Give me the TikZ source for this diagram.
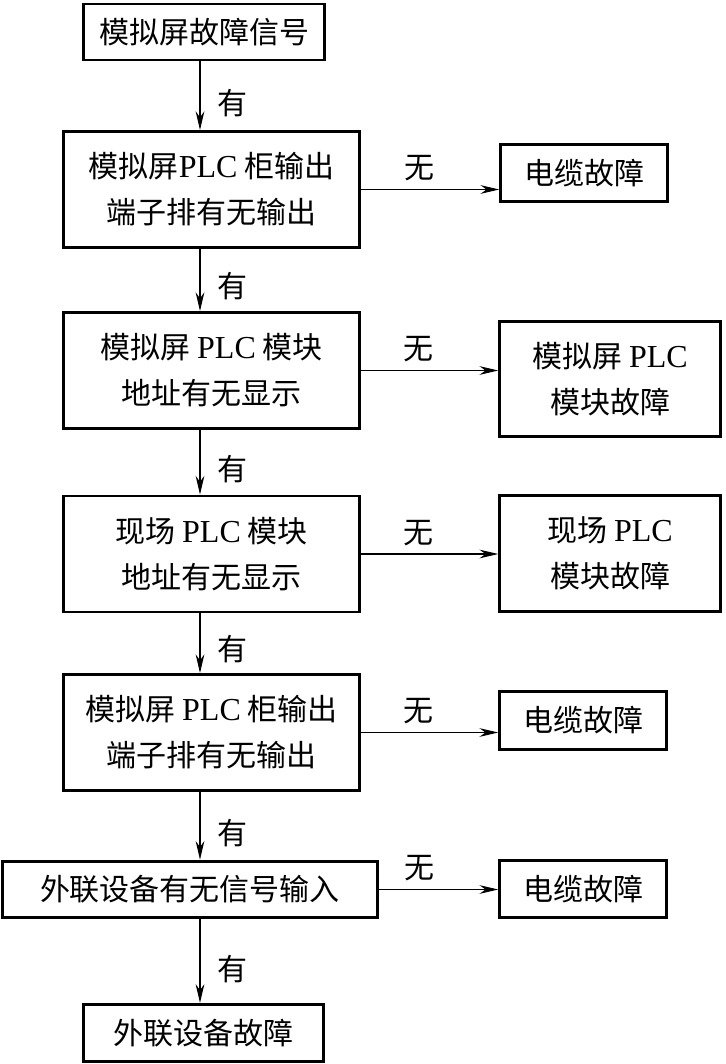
\documentclass[tikz,border=0pt]{standalone}
\usepackage{fontspec}
\setmainfont{Liberation Serif}
\newfontfamily\cjk{Noto Sans CJK SC}
\usetikzlibrary{arrows.meta}
\newcommand{\plc}{{\rmfamily\fontsize{24}{34.5}\selectfont PLC}}

\tikzset{
	box/.style={draw, line width=2.2pt, align=center, inner sep=0pt, font=\cjk\fontsize{22.5}{34.5}\selectfont},
	chkbox/.style={box, minimum width=222pt, minimum height=87pt},
	cablebox/.style={box, minimum width=125pt, minimum height=43pt},
	modbox/.style={box, minimum width=165.5pt, minimum height=86.5pt},
	arr/.style={line width=0.8pt, -{Stealth[length=14pt,width=6.5pt,inset=4.5pt]}},
	lbl/.style={font=\cjk\fontsize{22.5}{26}\selectfont, inner sep=0.75pt}
}

\begin{document}
\begin{tikzpicture}[x=0.75pt,y=0.75pt,yscale=-1,xscale=1]
	\useasboundingbox (0,0) rectangle (725,1064);
	
	% main column
	\node [box, minimum width=181pt, minimum height=42pt] (sig) at (204,32) {模拟屏故障信号};
	\node [chkbox] (out1) at (211.5,189.5) {模拟屏\plc{} 柜输出\\端子排有无输出};
	\node [chkbox] (addr1) at (211.5,370.5) {模拟屏 \plc{} 模块\\地址有无显示};
	\node [chkbox] (addr2) at (211.5,554) {现场 \plc{} 模块\\地址有无显示};
	\node [chkbox] (out2) at (211.5,732.5) {模拟屏 \plc{} 柜输出\\端子排有无输出};
	\node [box, minimum width=281pt, minimum height=42.5pt] (ext) at (190,889.5) {外联设备有无信号输入};
	\node [box, minimum width=180pt, minimum height=43pt] (extf) at (203.5,1033) {外联设备故障};
	
	% fault column
	\node [cablebox] (cab1) at (584,173) {电缆故障};
	\node [modbox] (mod1) at (610,379) {模拟屏 \plc\\模块故障};
	\node [modbox] (mod2) at (610,553.5) {现场 \plc\\模块故障};
	\node [cablebox] (cab2) at (583,720.5) {电缆故障};
	\node [cablebox] (cab3) at (583,889) {电缆故障};
	
	% vertical arrows
	\coordinate (sp) at (200,0);
	\draw [arr] (sig.south -| sp) -- node [lbl, pos=0.6, right=12pt] (y1) {有} (out1.north -| sp);
	\draw [arr] (out1.south -| sp) -- node [lbl, pos=0.6, right=12pt] (y2) {有} (addr1.north -| sp);
	\draw [arr] (addr1.south -| sp) -- node [lbl, pos=0.6, right=12pt] (y3) {有} (addr2.north -| sp);
	\draw [arr] (addr2.south -| sp) -- node [lbl, pos=0.6, right=12pt] (y4) {有} (out2.north -| sp);
	\draw [arr] (out2.south -| sp) -- node [lbl, pos=0.6, right=12pt] (y5) {有} (ext.north -| sp);
	\draw [arr] (ext.south -| sp) -- node [lbl, pos=0.6, right=12pt] (y6) {有} (extf.north -| sp);
	
	% horizontal arrows
	\draw [arr] (out1.east) -- node [lbl, pos=0.42, above=5pt] (n1) {无} (out1.east -| cab1.west);
	\draw [arr] (addr1.east) -- node [lbl, pos=0.42, above=5pt] (n2) {无} (addr1.east -| mod1.west);
	\draw [arr] (addr2.east) -- node [lbl, pos=0.42, above=5pt] (n3) {无} (addr2.east -| mod2.west);
	\draw [arr] (out2.east) -- node [lbl, pos=0.42, above=5pt] (n4) {无} (out2.east -| cab2.west);
	\draw [arr] (ext.east) -- node [lbl, pos=0.34, above=5pt] (n5) {无} (ext.east -| cab3.west);
	
\end{tikzpicture}
\end{document}
